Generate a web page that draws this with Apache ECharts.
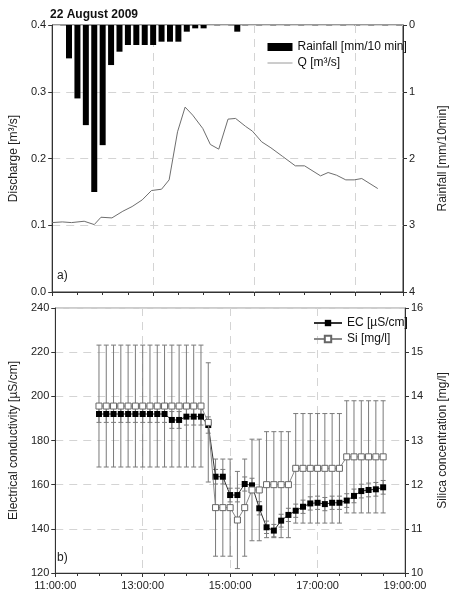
<!DOCTYPE html>
<html>
<head>
<meta charset="utf-8">
<script src="https://cdn.jsdelivr.net/npm/echarts@6/dist/echarts.min.js"></script>
<style>
html, body { margin: 0; padding: 0; background: #fff; }
#main { width: 457px; height: 597px; }
</style>
</head>
<body>
<div id="main"></div>
<script>
// rainfall, 10-min sums (hanging bars, right axis inverted)
var rainTime = ['12:20','12:30','12:40','12:50','13:00','13:10','13:20','13:30','13:40','13:50',
                '14:00','14:10','14:20','14:30','14:40','14:50','15:00','15:40'];
var rainValue = [0.5, 1.1, 1.5, 2.5, 1.8, 0.6, 0.4, 0.3, 0.3, 0.3,
                 0.3, 0.25, 0.25, 0.25, 0.1, 0.05, 0.05, 0.1];

// discharge
var qTime = ['12:00','12:12','12:23','12:38','12:50','12:58','13:11','13:24','13:35','13:47',
             '13:58','14:10','14:19','14:29','14:38','14:47','14:59','15:08','15:18','15:29',
             '15:38','15:50','15:58','16:09','16:20','16:34','16:49','17:00','17:19','17:28',
             '17:38','17:49','17:59','18:08','18:27'];
var qValue = [0.104, 0.105, 0.104, 0.106, 0.101, 0.112, 0.111, 0.121, 0.128, 0.138,
              0.152, 0.154, 0.168, 0.240, 0.277, 0.265, 0.245, 0.221, 0.214, 0.259,
              0.260, 0.248, 0.241, 0.225, 0.216, 0.203, 0.189, 0.189, 0.174, 0.179,
              0.175, 0.168, 0.168, 0.170, 0.155];

// EC and Si samples
var sampleTime = ['12:00','12:10','12:20','12:30','12:40','12:50','13:00','13:10','13:20','13:30',
                  '13:40','13:50','14:00','14:10','14:20','14:30','14:40','14:50','15:00','15:10',
                  '15:20','15:30','15:40','15:50','16:00','16:10','16:20','16:30','16:40','16:50',
                  '17:00','17:10','17:20','17:30','17:40','17:50','18:00','18:10','18:20','18:30'];
var ecValue = [192, 192, 192, 192, 192, 192, 192, 192, 192, 192,
               189.3, 189.3, 190.8, 190.8, 190.8, 187, 163.6, 163.6, 155.3, 155.3,
               160.3, 159.7, 149.3, 140.7, 139.2, 143.7, 146.3, 148.2, 150.0, 151.5,
               151.8, 151.2, 151.8, 151.8, 152.8, 154.9, 157.1, 157.6, 157.9, 158.8];
var ecErr = [3.8, 3.8, 3.8, 3.8, 3.8, 3.8, 3.8, 3.8, 3.8, 3.8,
             3.8, 3.8, 3.8, 3.8, 3.8, 3.7, 3.3, 3.3, 3.1, 3.1,
             3.2, 3.2, 3.0, 2.8, 2.8, 2.9, 3.0, 3.0, 3.0, 3.0,
             3.0, 3.0, 3.0, 3.0, 3.1, 3.1, 3.1, 3.1, 3.1, 3.1];
var siValue = [13.78, 13.78, 13.78, 13.78, 13.78, 13.78, 13.78, 13.78, 13.78, 13.78,
               13.78, 13.78, 13.78, 13.78, 13.78, 13.41, 11.48, 11.48, 11.48, 11.2,
               11.48, 11.88, 11.88, 12.0, 12.0, 12.0, 12.0, 12.37, 12.37, 12.37,
               12.37, 12.37, 12.37, 12.37, 12.63, 12.63, 12.63, 12.63, 12.63, 12.63];
var siErr = [1.38, 1.38, 1.38, 1.38, 1.38, 1.38, 1.38, 1.38, 1.38, 1.38,
             1.38, 1.38, 1.38, 1.38, 1.38, 1.35, 1.1, 1.1, 1.1, 1.1,
             1.1, 1.15, 1.15, 1.2, 1.2, 1.2, 1.2, 1.24, 1.24, 1.24,
             1.24, 1.24, 1.24, 1.24, 1.27, 1.27, 1.27, 1.27, 1.27, 1.27];

var yLeftTop = [0, 0.4];
var yRightTop = [0, 4];
var yLeftBottom = [120, 240];
var yRightBottom = [10, 16];

function hrs(s) {
    var p = s.split(':');
    return +p[0] + (+p[1]) / 60;
}
function pairs(t, v) {
    return t.map(function (s, i) { return [hrs(s), v[i]]; });
}
function errData(t, v, e) {
    return t.map(function (s, i) { return [hrs(s), v[i] - e[i], v[i] + e[i]]; });
}
function errRender(params, api) {
    var lo = api.coord([api.value(0), api.value(1)]);
    var hi = api.coord([api.value(0), api.value(2)]);
    var c = 2.5;
    var st = { stroke: '#7a7a7a', lineWidth: 1 };
    return {
        type: 'group',
        children: [
            { type: 'line', shape: { x1: lo[0], y1: lo[1], x2: hi[0], y2: hi[1] }, style: st },
            { type: 'line', shape: { x1: lo[0] - c, y1: lo[1], x2: lo[0] + c, y2: lo[1] }, style: st },
            { type: 'line', shape: { x1: hi[0] - c, y1: hi[1], x2: hi[0] + c, y2: hi[1] }, style: st }
        ]
    };
}

var font = 'Liberation Sans, Arial, sans-serif';
var dash = { show: true, lineStyle: { color: '#d4d4d4', type: [8, 6], width: 1 } };
var axLine = { show: true, lineStyle: { color: '#333', width: 1 } };
var tick = { show: true, inside: false, length: 4, lineStyle: { color: '#333' } };
var lbl = { color: '#222', fontSize: 11, fontFamily: font, margin: 6 };
var nameStyle = { color: '#222', fontSize: 12, fontFamily: font };
var noMark = { color: 'rgba(0,0,0,0)', borderColor: 'rgba(0,0,0,0)', borderWidth: 0 };

var myChart = echarts.init(document.getElementById('main'));

var option = {
    backgroundColor: '#fff',
    animation: false,
    title: {
        text: '22 August 2009',
        left: 45,
        top: 4,
        textStyle: { fontSize: 12, fontWeight: 'bold', color: '#111', fontFamily: font }
    },
    grid: [
        { left: 46, top: 25, width: 367, height: 267, show: true, borderColor: '#333', borderWidth: 1 },
        { left: 46, top: 308, width: 369, height: 265, show: true, borderColor: '#999', borderWidth: 1 }
    ],
    legend: [
        {
            orient: 'vertical', left: 262, top: 36, itemGap: 4,
            itemWidth: 25, itemHeight: 8,
            textStyle: { fontSize: 12, color: '#111', fontFamily: font },
            data: [
                { name: 'Rainfall [mm/10 min]', icon: 'rect' },
                { name: 'Q [m³/s]', itemStyle: noMark, lineStyle: { color: '#9a9a9a', width: 1 } }
            ]
        },
        {
            orient: 'vertical', left: 308, top: 312, itemGap: 4,
            itemWidth: 28, itemHeight: 8,
            textStyle: { fontSize: 12, color: '#111', fontFamily: font },
            data: ['EC [µS/cm]', 'Si [mg/l]']
        }
    ],
    xAxis: [
        {
            type: 'value', gridIndex: 0, min: 12, max: 18.95, interval: 2,
            axisLine: axLine, axisTick: tick, axisLabel: { show: false },
            minorTick: { show: true, splitNumber: 4, length: 3, lineStyle: { color: '#333' } },
            splitLine: dash
        },
        {
            type: 'value', gridIndex: 1, min: 11, max: 19, interval: 2,
            axisLine: axLine, axisTick: tick,
            axisLabel: {
                color: '#222', fontSize: 11, fontFamily: font, margin: 7,
                formatter: function (v) { return (v < 10 ? '0' : '') + v + ':00:00'; }
            },
            minorTick: { show: true, splitNumber: 4, length: 3, lineStyle: { color: '#333' } },
            splitLine: dash
        }
    ],
    yAxis: [
        {
            type: 'value', gridIndex: 0, min: yLeftTop[0], max: yLeftTop[1], interval: 0.1,
            name: 'Discharge [m³/s]', nameLocation: 'middle', nameGap: 29, nameTextStyle: nameStyle,
            axisLine: axLine, axisTick: tick,
            axisLabel: { color: '#222', fontSize: 11, fontFamily: font, margin: 6,
                formatter: function (v) { return v.toFixed(1); } },
            splitLine: dash
        },
        {
            type: 'value', gridIndex: 0, position: 'right', inverse: true,
            min: yRightTop[0], max: yRightTop[1], interval: 1,
            name: 'Rainfall [mm/10min]', nameLocation: 'middle', nameGap: 34, nameRotate: 90,
            nameTextStyle: nameStyle,
            axisLine: axLine, axisTick: tick, axisLabel: lbl,
            splitLine: { show: false }
        },
        {
            type: 'value', gridIndex: 1, min: yLeftBottom[0], max: yLeftBottom[1], interval: 20,
            name: 'Electrical conductivity [µS/cm]', nameLocation: 'middle', nameGap: 31,
            nameTextStyle: nameStyle,
            axisLine: axLine, axisTick: tick, axisLabel: lbl,
            splitLine: dash
        },
        {
            type: 'value', gridIndex: 1, position: 'right',
            min: yRightBottom[0], max: yRightBottom[1], interval: 1,
            name: 'Silica concentration [mg/l]', nameLocation: 'middle', nameGap: 32, nameRotate: 90,
            nameTextStyle: nameStyle,
            axisLine: axLine, axisTick: tick, axisLabel: lbl,
            splitLine: { show: false }
        }
    ],
    graphic: [
        { type: 'text', left: 57, top: 270, style: { text: 'a)', fontSize: 12, fill: '#222', fontFamily: font } },
        { type: 'text', left: 57, top: 552, style: { text: 'b)', fontSize: 12, fill: '#222', fontFamily: font } }
    ],
    series: [
        {
            name: 'Rainfall [mm/10 min]', type: 'bar', xAxisIndex: 0, yAxisIndex: 1,
            barWidth: 6, itemStyle: { color: '#000' },
            data: pairs(rainTime, rainValue)
        },
        {
            name: 'Q [m³/s]', type: 'line', xAxisIndex: 0, yAxisIndex: 0,
            symbol: 'none', lineStyle: { color: '#6e6e6e', width: 1 }, itemStyle: { color: '#6e6e6e' },
            data: pairs(qTime, qValue)
        },
        {
            type: 'custom', xAxisIndex: 1, yAxisIndex: 3, z: 1,
            renderItem: errRender, data: errData(sampleTime, siValue, siErr)
        },
        {
            type: 'custom', xAxisIndex: 1, yAxisIndex: 2, z: 1,
            renderItem: errRender, data: errData(sampleTime, ecValue, ecErr)
        },
        {
            name: 'EC [µS/cm]', type: 'line', xAxisIndex: 1, yAxisIndex: 2, z: 3,
            symbol: 'rect', symbolSize: 6,
            lineStyle: { color: '#333', width: 1 },
            itemStyle: { color: '#000', borderColor: '#000', borderWidth: 0 },
            data: pairs(sampleTime, ecValue)
        },
        {
            name: 'Si [mg/l]', type: 'line', xAxisIndex: 1, yAxisIndex: 3, z: 4,
            symbol: 'rect', symbolSize: 6,
            lineStyle: { color: '#888', width: 1 },
            itemStyle: { color: '#fff', borderColor: '#666', borderWidth: 1 },
            data: pairs(sampleTime, siValue)
        }
    ]
};

myChart.setOption(option);
</script>
</body>
</html>
